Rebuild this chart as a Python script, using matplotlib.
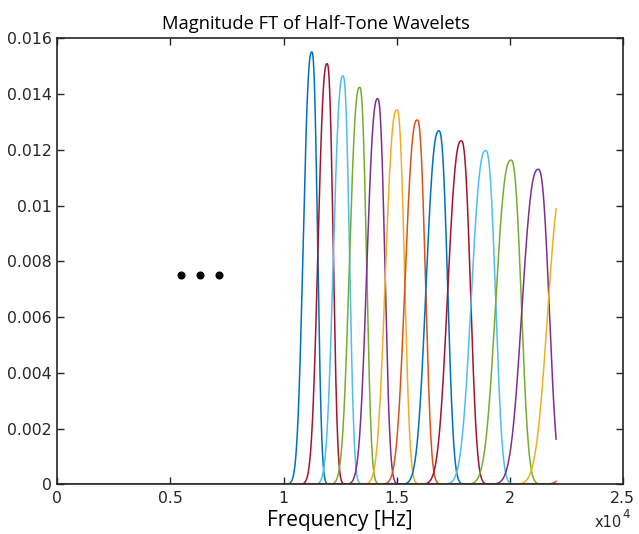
import numpy as np
import matplotlib
matplotlib.use("Agg")
import matplotlib.pyplot as plt
from matplotlib.ticker import FixedLocator, FixedFormatter

# centres (Hz), peak heights and colours of the visible wavelet spectra
centres = [11250, 11925, 12630, 13365, 14160, 15010, 15910, 16870,
           17860, 18940, 20055, 21260, 22435, 23900]
peaks = [0.01551, 0.01509, 0.01465, 0.01424, 0.01383, 0.01343, 0.01307,
         0.01268, 0.01232, 0.01197, 0.01163, 0.01130, 0.01100, 0.01070]
colors = ["#0072BD", "#A2142F", "#4DBEEE", "#77AC30", "#7E2F8E", "#EDB120",
          "#D95319", "#0072BD", "#A2142F", "#4DBEEE", "#77AC30", "#7E2F8E",
          "#EDB120", "#D95319"]
# relative half widths of each spectrum (left / right of the peak)
width_left = 0.042
width_right = 0.0285
shape_exp = 2.5

fs_half = 22050
dots_x = [5470, 6310, 7150]
dots_y = [0.00752, 0.00752, 0.00752]

xticks = [0, 5000, 10000, 15000, 20000, 25000]
xlabels = ["0", "0.5", "1", "1.5", "2", "2.5"]
yticks = [0, 0.002, 0.004, 0.006, 0.008, 0.01, 0.012, 0.014, 0.016]
ylabels = ["0", "0.002", "0.004", "0.006", "0.008", "0.01", "0.012", "0.014", "0.016"]

plt.rcParams["font.family"] = ["DejaVu Sans"]

fig = plt.figure(figsize=(6.39, 5.34), dpi=100)
ax = fig.add_axes([0.0897, 0.0931, 0.885, 0.8352])

f = np.linspace(0, fs_half, 6000)
ax.plot([0, fs_half], [0, 0], color="#2f5f9f", lw=2.2, solid_capstyle="butt", zorder=1)
for c, p, col in zip(centres, peaks, colors):
    s = np.where(f < c, width_left * c, width_right * c)
    y = p * np.exp(-np.abs((f - c) / s) ** shape_exp)
    ax.plot(f, y, color=col, lw=1.1, zorder=2)

ax.plot(dots_x, dots_y, "o", color="black", ms=4.8, zorder=3)

ax.set_xlim(0, 25000)
ax.set_ylim(0, 0.016)
ax.xaxis.set_major_locator(FixedLocator(xticks))
ax.xaxis.set_major_formatter(FixedFormatter(xlabels))
ax.yaxis.set_major_locator(FixedLocator(yticks))
ax.yaxis.set_major_formatter(FixedFormatter(ylabels))
ax.tick_params(direction="in", top=True, right=True, length=5, width=1,
               colors="#262626", labelsize=11.3)
ax.tick_params(axis="x", pad=5)
ax.tick_params(axis="y", pad=4)
for sp in ax.spines.values():
    sp.set_color("#262626")
    sp.set_linewidth(1.2)

ax.set_title("Magnitude FT of Half-Tone Wavelets", fontsize=13.2,
             family=["Open Sans", "DejaVu Sans"], x=0.458, pad=7)
ax.set_xlabel("Frequency [Hz]", fontsize=15, family=["Open Sans", "DejaVu Sans"], labelpad=3)

fig.text(0.9735, 0.013, "x10", fontsize=10.5, ha="right", va="baseline", color="#262626")
fig.text(0.9745, 0.030, "4", fontsize=8.5, ha="left", va="baseline", color="#262626")

fig.savefig("out.png", dpi=100)
